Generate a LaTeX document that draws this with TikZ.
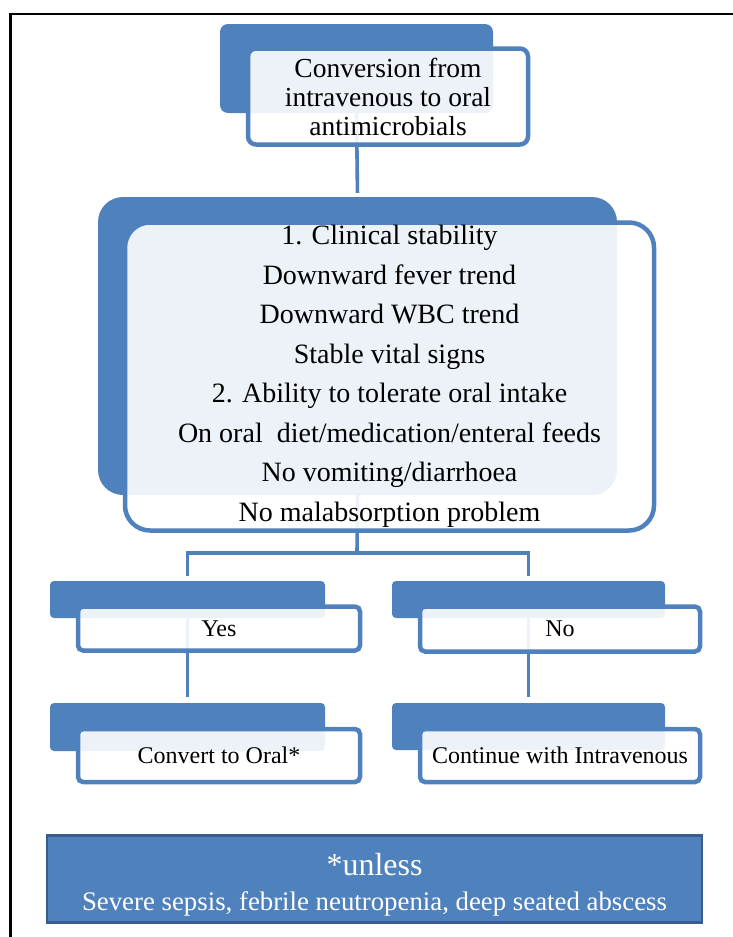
\documentclass[tikz,border=0pt]{standalone}
\usepackage{fontspec}
\setmainfont{Liberation Serif}
\definecolor{acc}{HTML}{4F81BD}
\definecolor{accdark}{HTML}{385D8A}
\pgfdeclarelayer{bg}
\pgfsetlayers{bg,main}
\begin{document}
\begin{tikzpicture}[x=1pt,y=-1pt,
  back/.style={fill=acc, draw=none, rounded corners=#1, inner sep=0pt},
  back/.default=4pt,
  front/.style={fill=white, fill opacity=0.9, text opacity=1, draw=acc, line width=4.5pt,
    rounded corners=#1, inner sep=0pt, align=center},
  front/.default=5pt,
  link/.style={draw=acc, line width=3.6pt},
  smalltext/.style={font=\fontsize{24}{28}\selectfont}]
\useasboundingbox (0,0) rectangle (733,937);
% outer frame
\draw[line width=2.5pt] (10.5,937) -- (10.5,14) -- (733,14);

% top box
\node[back=8pt, minimum width=273pt, minimum height=89pt] (topb) at (356.5,68.5) {};
\node[front=8pt, minimum width=280pt, minimum height=96pt, font=\fontsize{27.5}{29}\selectfont]
  (top) at (388,96.5) {Conversion from\\intravenous to oral\\antimicrobials};

% big box
\node[back=25pt, minimum width=519pt, minimum height=298pt] (bigb) at (357.5,346) {};
\node[front=25pt, minimum width=529pt, minimum height=308pt, font=\fontsize{28}{39.5}\selectfont]
  (big) at (389.5,376.5) {1. Clinical stability\\Downward fever trend\\Downward WBC trend\\Stable vital signs\\2. Ability to tolerate oral intake\\On oral\hspace{0.25em} diet/medication/enteral feeds\\No vomiting/diarrhoea\\No malabsorption problem};

\coordinate (split) at (357,553);

% yes / no
\node[back, minimum width=275pt, minimum height=37pt] (yb) at (187.5,599.5) {};
\node[front, minimum width=282pt, minimum height=44pt, smalltext] (yes) at (219,628.5) {Yes};
\node[back, minimum width=273pt, minimum height=37pt] (nb) at (528.5,599.5) {};
\node[front, minimum width=280pt, minimum height=45pt, smalltext] (no) at (560,629) {No};

% results
\node[back, minimum width=275pt, minimum height=48pt] (cb) at (187.5,727) {};
\node[front, minimum width=282pt, minimum height=53pt, smalltext] (conv) at (219,755.5) {Convert to Oral*};
\node[back, minimum width=273pt, minimum height=47pt] (ib) at (528.5,726.5) {};
\node[front, minimum width=280pt, minimum height=53pt, smalltext] (cont) at (560,755.5) {Continue with Intravenous};

% note
\node[fill=acc, draw=accdark, line width=2.2pt, minimum width=655pt, minimum height=87pt,
  inner sep=0pt, text=white, align=center, font=\fontsize{26.8}{35}\selectfont]
  (note) at (374.5,879) {\rule{0pt}{34pt}{\fontsize{32}{35}\selectfont *unless}\\Severe sepsis, febrile neutropenia, deep seated abscess};

\begin{pgfonlayer}{bg}
\draw[link, shorten >=4pt] (topb.south) -- (bigb.north);
\draw[link] (bigb.south) -- (split);
\draw[link, shorten <=5pt, shorten >=5pt] (yb.north) |- (split) -| (nb.north);
\draw[link, shorten >=6pt] (yb.south) -- (cb.north);
\draw[link, shorten >=6pt] (nb.south) -- (ib.north);
\end{pgfonlayer}
\end{tikzpicture}
\end{document}
